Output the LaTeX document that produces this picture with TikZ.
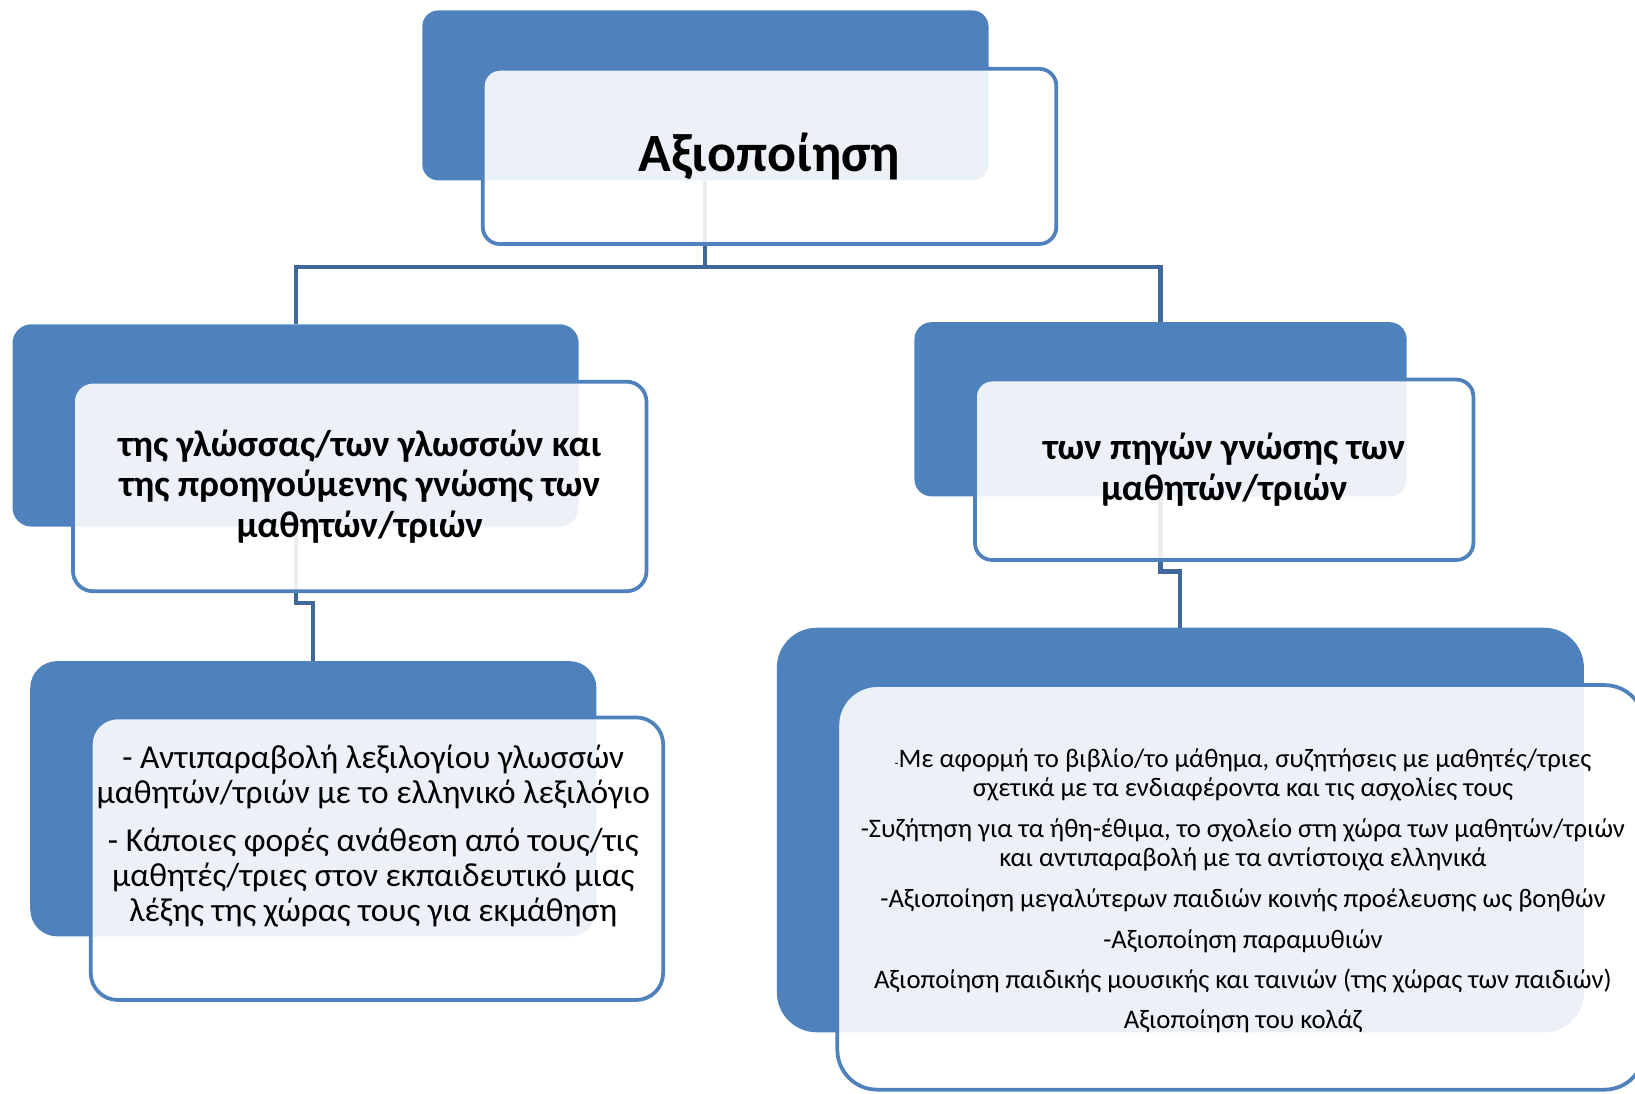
\documentclass[tikz,border=0pt]{standalone}
\usepackage{fontspec}
\setmainfont{Carlito}
\definecolor{accent}{HTML}{4F81BD}
\definecolor{linkblue}{HTML}{41689A}
\newcommand\pxu{1.0427pt}
\begin{document}
\begin{tikzpicture}[x=1.0427pt,y=-1.0427pt,
  backbox/.style={rectangle, fill=accent, draw=none, inner sep=0pt},
  frontbox/.style={rectangle, fill=white, fill opacity=0.89, text opacity=1,
    draw=accent, draw opacity=1, line width=3.6*\pxu, inner sep=0pt, align=center},
  link/.style={draw=linkblue, line width=4*\pxu},
  titletext/.style={font=\fontsize{54}{60}\selectfont\bfseries},
  midtext/.style={font=\fontsize{37.2}{40.7}\selectfont\bfseries, align=center},
  lowtext/.style={font=\fontsize{33.4}{35}\selectfont, align=center},
  smalltext/.style={font=\fontsize{26.7}{29.2}\selectfont, align=center},
]
\useasboundingbox (0,0) rectangle (1568,1049);
\clip (0,0) rectangle (1568,1049);

% back panels
\node[backbox, minimum width=543*\pxu, minimum height=163*\pxu, rounded corners=16pt] (d0) at (676.5,91.5) {};
\node[backbox, minimum width=543*\pxu, minimum height=194*\pxu, rounded corners=19pt] (d1) at (283.5,408) {};
\node[backbox, minimum width=472*\pxu, minimum height=167*\pxu, rounded corners=17pt] (d2) at (1113,392.5) {};
\node[backbox, minimum width=543*\pxu, minimum height=264*\pxu, rounded corners=27pt] (d3) at (300.5,766) {};
\node[backbox, minimum width=774*\pxu, minimum height=388*\pxu, rounded corners=40pt] (d4) at (1132,796) {};

% connectors
\draw[link] (d0.south) -- (d0.south |- 0,256) -| (d1.north);
\draw[link] (d0.south) -- (d0.south |- 0,256) -| (d2.north);
\draw[link] (d1.south) -- (d1.south |- 0,578) -| (d3.north);
\draw[link] (d2.south) -- (d2.south |- 0,548) -| (d4.north);

% front panels
\node[frontbox, minimum width=550*\pxu, minimum height=168*\pxu, rounded corners=17pt, titletext] (f0) at (738,150) {Αξιοποίηση};
\node[frontbox, minimum width=550*\pxu, minimum height=201*\pxu, rounded corners=20pt, midtext] (f1) at (345,466.5)
  {της γλώσσας/των γλωσσών και\\της προηγούμενης γνώσης των\\μαθητών/τριών};
\node[frontbox, minimum width=478*\pxu, minimum height=173*\pxu, rounded corners=17pt, midtext] (f2) at (1174,450.5)
  {των πηγών γνώσης των\\μαθητών/τριών};
\node[frontbox, minimum width=549*\pxu, minimum height=271*\pxu, rounded corners=27pt] (f3) at (361.5,823.5) {};
\node[frontbox, minimum width=774*\pxu, minimum height=388*\pxu, rounded corners=40pt] (f4) at (1190,851) {};

% list texts
\node[lowtext] (t3) at (358,802)
  {- Αντιπαραβολή λεξιλογίου γλωσσών\\μαθητών/τριών με το ελληνικό λεξιλόγιο\\[13pt]
   - Κάποιες φορές ανάθεση από τους/τις\\μαθητές/τριες στον εκπαιδευτικό μιας\\λέξης της χώρας τους για εκμάθηση};
\node[smalltext] (t4) at (1192,854)
  {{\fontsize{13}{13}\selectfont -}Με αφορμή το βιβλίο/το μάθημα, συζητήσεις με μαθητές/τριες\\σχετικά με τα ενδιαφέροντα και τις ασχολίες τους\\[12pt]
   -Συζήτηση για τα ήθη-έθιμα, το σχολείο στη χώρα των μαθητών/τριών\\και αντιπαραβολή με τα αντίστοιχα ελληνικά\\[12pt]
   -Αξιοποίηση μεγαλύτερων παιδιών κοινής προέλευσης ως βοηθών\\[11pt]
   -Αξιοποίηση παραμυθιών\\[11pt]
   Αξιοποίηση παιδικής μουσικής και ταινιών (της χώρας των παιδιών)\\[11pt]
   Αξιοποίηση του κολάζ};
\end{tikzpicture}
\end{document}
